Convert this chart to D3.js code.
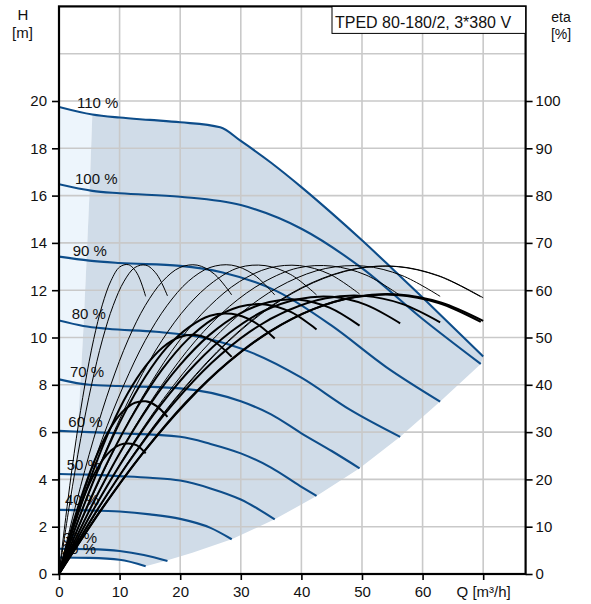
<!DOCTYPE html>
<html><head><meta charset="utf-8">
<script src="https://cdn.jsdelivr.net/npm/d3@7"></script>
<style>
body{margin:0;background:#fff}
text{font-family:"Liberation Sans",Arial,Helvetica,sans-serif;fill:#111}
</style>
</head><body>
<svg id="chart" width="591" height="604"></svg>
<script>
// ---------- data ----------
const qTicks = [0, 10, 20, 30, 40, 50, 60, 70];
const hTicks = [0, 2, 4, 6, 8, 10, 12, 14, 16, 18, 20];
const etaTicks = [0, 10, 20, 30, 40, 50, 60, 70, 80, 90, 100];
const hGrid = [2, 4, 6, 8, 10, 12, 14, 16, 18, 20, 22];
const qGrid = [10, 20, 30, 40, 50, 60, 70];
const titleText = "TPED 80-180/2, 3*380 V";
const speedLabels = ["110 %", "100 %", "90 %", "80 %", "70 %", "60 %", "50 %", "40 %", "30 %", "20 %"];

// Q-H curves per speed [Q m3/h, H m]
const qh110 = [[0,19.75],[5.5,19.43],[10,19.3],[15,19.2],[20,19.1],[26.6,18.89],[30,18.31],[35,17.39],[40,16.36],[45,15.26],[50,14.11],[55,12.91],[60,11.69],[65,10.44],[70,9.2]];
const qh100 = [[0,16.48],[5.5,16.2],[10,16.1],[20,15.95],[30,15.6],[40,14.6],[50,12.93],[60,10.78],[69.6,8.88]];
const qh90  = [[0,13.42],[5,13.25],[10,13.15],[20,13.03],[27,12.75],[36,11.95],[45,10.5],[54,8.75],[62.9,7.29]];
const qh80  = [[0,10.72],[4,10.49],[8,10.37],[16,10.24],[24,9.98],[32,9.34],[40,8.3],[48,6.95],[56.3,5.8]];
const qh70  = [[0,8.23],[5,8.0],[10,7.95],[20,7.85],[30,7.3],[35,6.75],[40,5.95],[45,5.2],[49.6,4.47]];
const qh60  = [[0,6.05],[5,6.0],[10,5.95],[20,5.8],[25,5.5],[30,5.1],[35,4.5],[39.8,3.72],[42.5,3.3]];
const qh50  = [[0,4.23],[5,4.2],[10,4.14],[15,4.07],[20,3.95],[25,3.62],[30,3.15],[35.6,2.31]];
const qh40  = [[0,2.71],[5,2.69],[10,2.64],[15,2.52],[20,2.33],[25,1.95],[28.5,1.47]];
const qh30  = [[0,1.07],[5,1.05],[10,0.97],[14,0.8],[17.9,0.55]];
const qh20  = [[0,0.7],[5,0.68],[10,0.6],[14.3,0.33]];
const qhCurves = [qh110, qh100, qh90, qh80, qh70, qh60, qh50, qh40, qh30, qh20];

// boundaries of the operating area
const curveEnds = [[70,9.2],[69.6,8.88],[62.9,7.29],[56.3,5.8],[49.6,4.47],[42.5,3.3],[35.6,2.31],[28.5,1.47],[22,0.9],[17.9,0.58],[14.3,0.33]];
const lowSpeedInner = [[10,0.6],[5,0.68]];
const minFlow = [[5.5,19.43],[5.05,16.2],[4.55,13.3],[4.05,10.5],[3.55,8.1],[3.05,6.0],[2.55,4.2],[2.05,2.7],[1.3,1.07],[1.05,0.7]];

// efficiency curves: Q samples per speed, pump eta (thin) and total eta (thick), in %
const etaQ110 = [0,7,14,21,28,35,42,49,56,63,70];
const etaQ100 = [0,6.96,13.92,20.88,27.84,34.8,41.76,48.72,55.68,62.64,69.6];
const etaQ90  = [0,6.29,12.58,18.87,25.16,31.45,37.74,44.03,50.32,56.61,62.9];
const etaQ80  = [0,5.63,11.26,16.89,22.52,28.15,33.78,39.41,45.04,50.67,56.3];
const etaQ70  = [0,4.96,9.92,14.88,19.84,24.8,29.76,34.72,39.68,44.64,49.6];
const etaQ60  = [0,4.25,8.5,12.75,17,21.25,25.5,29.75,34,38.25,42.5];
const etaQ50  = [0,3.56,7.12,10.68,14.24,17.8,21.36,24.92,28.48,32.04,35.6];
const etaQ40  = [0,2.85,5.7,8.55,11.4,14.25,17.1,19.95,22.8,25.65,28.5];
const etaQ30  = [0,1.79,3.58,5.37,7.16,8.95,10.74,12.53,14.32,16.11,17.9];
const etaQ20  = [0,1.43,2.86,4.29,5.72,7.15,8.58,10.01,11.44,12.87,14.3];

const etaP110 = [0,14.8,28.3,39.7,49.2,56.5,61.6,64.5,65.0,62.9,58.4];
const etaP100 = [0,14.8,28.3,39.7,49.2,56.5,61.6,64.5,65.0,63.0,58.6];
const etaP90  = [0,14.9,28.4,39.8,49.3,56.6,61.7,64.6,65.1,63.1,58.7];
const etaP80  = [0,14.9,28.4,39.8,49.3,56.6,61.7,64.7,65.1,63.2,58.9];
const etaP70  = [0,14.9,28.4,39.8,49.3,56.6,61.8,64.7,65.2,63.4,59.2];
const etaP60  = [0,14.9,28.4,39.9,49.4,56.7,61.8,64.8,65.2,63.3,59.0];
const etaP50  = [0,15.0,28.5,39.9,49.4,56.7,61.9,64.8,65.3,63.4,59.0];
const etaP40  = [0,15.0,28.5,40.0,49.5,56.8,61.9,64.8,65.3,63.4,59.0];
const etaP30  = [0,15.1,28.6,40.0,49.5,56.8,61.9,64.8,65.3,63.4,58.8];
const etaP20  = [0,15.2,28.7,40.1,49.6,56.9,62.0,64.9,65.4,63.6,58.7];

const etaT110 = [0,13.6,25.8,36.2,44.8,51.4,56.0,58.6,59.1,57.4,53.5];
const etaT100 = [0,13.6,25.7,36.2,44.7,51.3,55.9,58.5,59.0,57.3,53.3];
const etaT90  = [0,13.5,25.6,36.0,44.6,51.2,55.7,58.3,58.8,57.1,53.2];
const etaT80  = [0,13.5,25.5,35.9,44.4,51.0,55.6,58.1,58.6,56.9,53.0];
const etaT70  = [0,13.3,25.3,35.6,44.0,50.5,55.0,57.5,58.0,56.3,52.5];
const etaT60  = [0,13.1,24.9,34.9,43.2,49.6,54.0,56.5,57.0,55.4,51.7];
const etaT50  = [0,12.7,24.0,33.7,41.7,47.9,52.1,54.6,55.0,53.4,49.8];
const etaT40  = [0,11.6,22.0,31.0,38.3,43.9,47.9,50.1,50.5,49.1,45.9];
const etaT30  = [0,8.4,15.9,22.4,27.7,31.8,34.6,36.2,36.5,35.5,33.2];
const etaT20  = [0,6.3,12.0,16.9,20.9,24.0,26.1,27.3,27.6,27.2,25.5];

const etaQs = [etaQ110, etaQ100, etaQ90, etaQ80, etaQ70, etaQ60, etaQ50, etaQ40, etaQ30, etaQ20];
const etaPump = [etaP110, etaP100, etaP90, etaP80, etaP70, etaP60, etaP50, etaP40, etaP30, etaP20];
const etaTotal = [etaT110, etaT100, etaT90, etaT80, etaT70, etaT60, etaT50, etaT40, etaT30, etaT20];

// ---------- layout (pixels / styles) ----------
const L = 59, R = 525.6, B = 574, T = 6.4;
const labelOffsets = [[18,1],[16,0],[13.7,-1],[12.7,-1.7],[11,-2.6],[9.3,-4.3],[7.7,-4],[6,-5],[4,-5.2],[3,-3.6]];
const BLUE = "#0d4d8a";

const svg = d3.select("#chart");
const x = d3.scaleLinear().domain([0, 77]).range([L, R]);
const y = d3.scaleLinear().domain([0, 24]).range([B, T]);
const ye = d3.scaleLinear().domain([0, 120]).range([B, T]);

const poly = d3.line().x(d => x(d[0])).y(d => y(d[1])).curve(d3.curveLinearClosed);

// light (below minimum flow) strip
const strip = [qh110[0], qh110[1]].concat(minFlow.slice(1)).concat([[0, qh20[0][1]]]);
svg.append("path").attr("d", poly(strip)).attr("fill", "#edf5fc");

// operating area
const area = qh110.filter(d => d[0] >= 5.5)
  .concat(curveEnds.slice(1))
  .concat(lowSpeedInner)
  .concat(minFlow.slice().reverse());
svg.append("path").attr("d", poly(area)).attr("fill", "#d0dce8");

// grid
const g = svg.append("g").attr("stroke", "#c9c9c9").attr("stroke-width", 1.6);
qGrid.forEach(q => g.append("line").attr("x1", x(q)).attr("x2", x(q)).attr("y1", T).attr("y2", B));
hGrid.forEach(h => g.append("line").attr("x1", L).attr("x2", R).attr("y1", y(h)).attr("y2", y(h)));

svg.append("clipPath").attr("id", "plotclip").append("rect")
  .attr("x", L).attr("y", T).attr("width", R - L).attr("height", B - T);

// Q-H curves
const hLine = d3.line().x(d => x(d[0])).y(d => y(d[1])).curve(d3.curveMonotoneX);
const hg = svg.append("g").attr("clip-path", "url(#plotclip)");
qhCurves.forEach(c => hg.append("path").attr("d", hLine(c)).attr("fill", "none")
  .attr("stroke", BLUE).attr("stroke-width", 2.1));

// speed labels
speedLabels.forEach((s, i) => {
  svg.append("text").attr("x", x(0) + labelOffsets[i][0]).attr("y", y(qhCurves[i][0][1]) + labelOffsets[i][1])
    .attr("font-size", 15).text(s);
});

// efficiency curves
const eLine = d3.line().x(d => x(d[0])).y(d => ye(d[1])).curve(d3.curveCatmullRom.alpha(0.5));
const eg = svg.append("g").attr("clip-path", "url(#plotclip)").attr("fill", "none").attr("stroke", "#000");
etaQs.forEach((qs, i) => {
  eg.append("path").attr("d", eLine(qs.map((q, j) => [q, etaPump[i][j]]))).attr("stroke-width", 1);
});
etaQs.forEach((qs, i) => {
  eg.append("path").attr("d", eLine(qs.map((q, j) => [q, etaTotal[i][j]]))).attr("stroke-width", 2);
});

// axes
const fs = 15;
const ax = svg.append("g").attr("transform", `translate(0,${B})`)
  .call(d3.axisBottom(x).tickValues(qTicks).tickSize(6).tickPadding(6)
    .tickFormat(d => d === 70 ? "Q [m³/h]" : d));
const ayl = svg.append("g").attr("transform", `translate(${L},0)`)
  .call(d3.axisLeft(y).tickValues(hTicks).tickSize(7).tickPadding(5));
const ayr = svg.append("g").attr("transform", `translate(${R},0)`)
  .call(d3.axisRight(ye).tickValues(etaTicks).tickSize(7).tickPadding(3));
[ax, ayl, ayr].forEach(a => {
  a.select(".domain").remove();
  a.selectAll(".tick line").attr("stroke", "#000").attr("stroke-width", 1.6);
  a.selectAll(".tick text").attr("font-size", fs).attr("fill", "#111")
    .style("font-family", '"Liberation Sans", Arial, sans-serif');
});

// frame
svg.append("rect").attr("x", L).attr("y", T).attr("width", R - L).attr("height", B - T)
  .attr("fill", "none").attr("stroke", "#000").attr("stroke-width", 2.2);

// axis titles
svg.append("text").attr("x", 23).attr("y", 20).attr("text-anchor", "middle").attr("font-size", 15).text("H");
svg.append("text").attr("x", 22.5).attr("y", 37.5).attr("text-anchor", "middle").attr("font-size", 15).text("[m]");
svg.append("text").attr("x", 561).attr("y", 22).attr("text-anchor", "middle").attr("font-size", 14).text("eta");
svg.append("text").attr("x", 561).attr("y", 38.5).attr("text-anchor", "middle").attr("font-size", 14).text("[%]");

// title box
svg.append("rect").attr("x", 332).attr("y", T).attr("width", R - 332).attr("height", 27)
  .attr("fill", "#fff").attr("stroke", "#000").attr("stroke-width", 1);
svg.append("text").attr("x", 335).attr("y", 28).attr("font-size", 16).text(titleText);
</script>
</body></html>
